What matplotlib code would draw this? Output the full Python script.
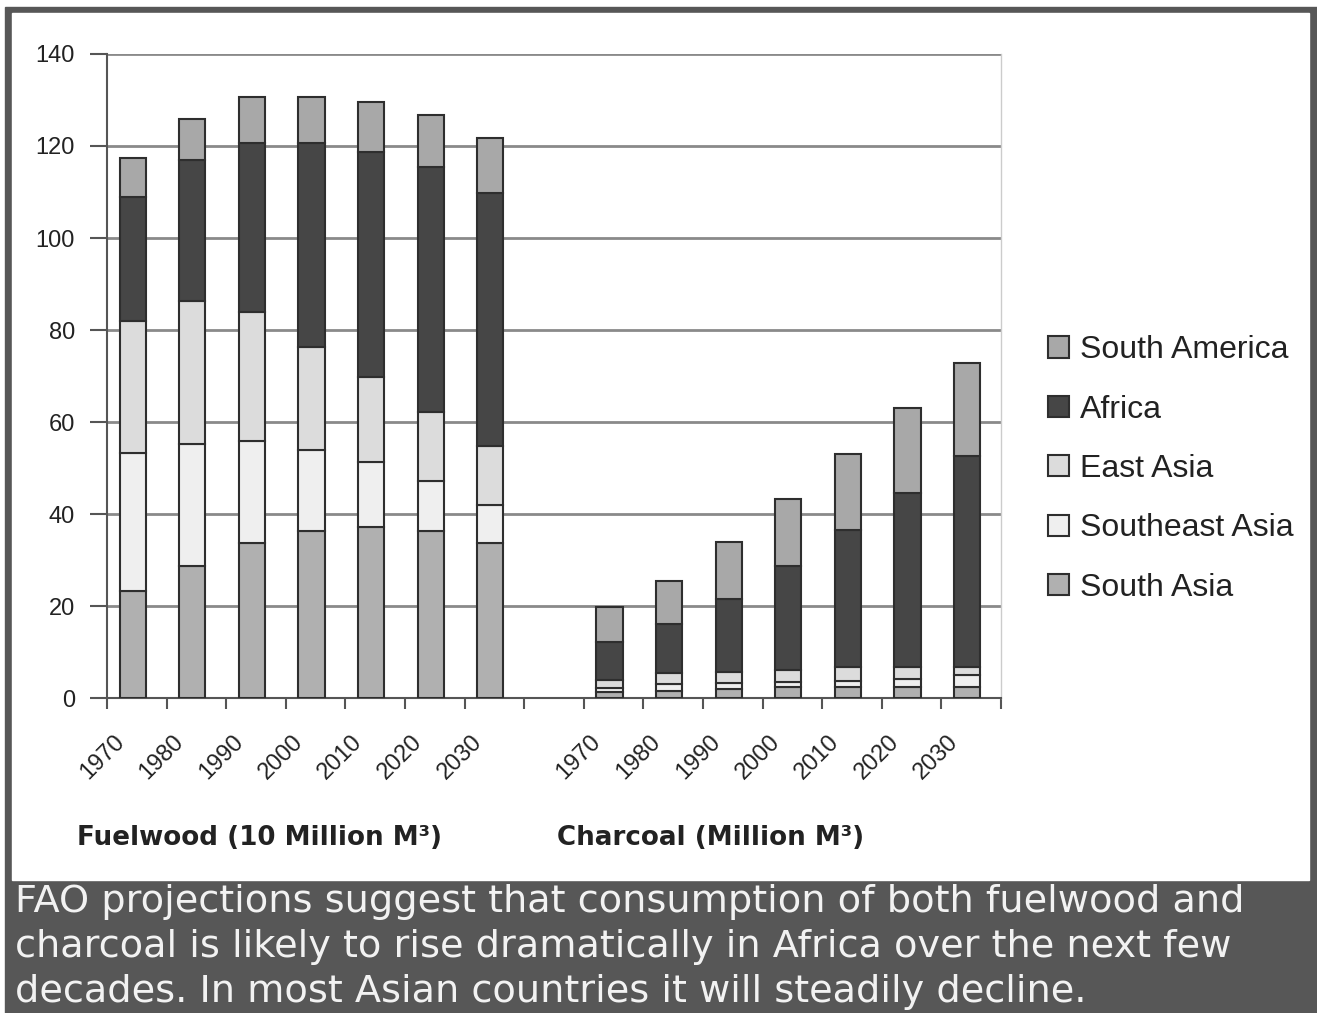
import numpy as np
import matplotlib.pyplot as plt
from matplotlib.patches import Rectangle, Patch

years = ['1970', '1980', '1990', '2000', '2010', '2020', '2030']
regions = ['South Asia', 'Southeast Asia', 'East Asia', 'Africa', 'South America']

# fuelwood, 10 million m3 (bottom to top of the stack)
fuel_south_asia = [23.3, 28.7, 33.8, 36.2, 37.2, 36.2, 33.8]
fuel_se_asia = [29.9, 26.5, 22.1, 17.7, 14.0, 11.0, 8.2]
fuel_east_asia = [28.8, 31.1, 28.0, 22.4, 18.6, 15.0, 12.8]
fuel_africa = [27.0, 30.7, 36.8, 44.4, 48.9, 53.2, 55.0]
fuel_s_america = [8.4, 8.9, 10.0, 10.0, 10.9, 11.3, 11.9]

# charcoal, million m3
char_south_asia = [1.2, 1.6, 2.0, 2.3, 2.5, 2.3, 2.3]
char_se_asia = [1.0, 1.4, 1.2, 1.1, 1.3, 1.8, 2.7]
char_east_asia = [1.7, 2.4, 2.5, 2.7, 2.9, 2.7, 1.8]
char_africa = [8.3, 10.7, 15.8, 22.7, 29.8, 37.8, 45.9]
char_s_america = [7.6, 9.4, 12.5, 14.4, 16.5, 18.5, 20.2]

colors = ['#b0b0b0', '#efefef', '#dcdcdc', '#464646', '#a8a8a8']
edge = '#2e2e2e'

plt.rcParams['font.family'] = ['Liberation Sans', 'DejaVu Sans']

fig = plt.figure(figsize=(13.17, 10.13), dpi=100)

# frame and caption background
fig.patches.append(Rectangle((5 / 1317, 0), 1 - 5 / 1317, 1 - 7 / 1013,
                             transform=fig.transFigure, color='#575757', zorder=-2))
fig.patches.append(Rectangle((12 / 1317, 1 - 880 / 1013), (1309 - 12) / 1317, (880 - 13) / 1013,
                             transform=fig.transFigure, color='white', zorder=-1))

ax = fig.add_axes([107 / 1317, 1 - 698 / 1013, (1001 - 107) / 1317, (698 - 54) / 1013])
ax.set_zorder(2)

fuel = [fuel_south_asia, fuel_se_asia, fuel_east_asia, fuel_africa, fuel_s_america]
char = [char_south_asia, char_se_asia, char_east_asia, char_africa, char_s_america]

x_fuel = np.arange(len(years))
x_char = np.arange(len(years)) + len(years) + 1
w = 0.44

for x, group in [(x_fuel, fuel), (x_char, char)]:
    bottom = np.zeros(len(years))
    for vals, c in zip(group, colors):
        ax.bar(x - 0.07, vals, w, bottom=bottom, color=c, edgecolor=edge, linewidth=1.5, zorder=3)
        bottom += np.array(vals)

ax.set_xlim(-0.5, 14.5)
ax.set_ylim(0, 140)
ax.set_yticks(range(0, 141, 20))
ax.yaxis.grid(True, color='#8a8a8a', linewidth=2, zorder=0)
ax.set_axisbelow(True)
ax.tick_params(axis='y', length=12, width=1.5, color='#555555', pad=11, labelsize=17, labelcolor='#222222')

ax.set_xticks(np.arange(-0.5, 15, 1))
ax.set_xticklabels([])
ax.tick_params(axis='x', length=8, width=1.5, color='#555555')
lab_x = list(x_fuel) + list(x_char)
for xi, lab in zip(lab_x, years + years):
    ax.text(xi - 0.40, -7.2, lab, rotation=45, ha='right', va='top', rotation_mode='anchor',
            fontsize=17, color='#222222', clip_on=False)

ax.spines['top'].set_visible(False)
ax.spines['right'].set_color('#cccccc')
ax.spines['right'].set_linewidth(1)
ax.spines['left'].set_color('#555555')
ax.spines['left'].set_linewidth(1.5)
ax.spines['bottom'].set_color('#555555')
ax.spines['bottom'].set_linewidth(1.5)

handles = [Patch(facecolor=c, edgecolor=edge, linewidth=1.5) for c in colors][::-1]
fig.legend(handles, regions[::-1], loc='center left', bbox_to_anchor=(1019 / 1317, 1 - 469 / 1013),
           frameon=False, fontsize=23, handlelength=0.65, handleheight=0.65, handletextpad=0.35,
           labelspacing=0.92, labelcolor='#222222')

fig.text(77 / 1317, 1 - 838 / 1013, 'Fuelwood (10 Million M³)', fontsize=18.8, fontweight='bold',
         color='#222222', va='center', family='DejaVu Sans')
fig.text(557 / 1317, 1 - 838 / 1013, 'Charcoal (Million M³)', fontsize=18.8, fontweight='bold',
         color='#222222', va='center', family='DejaVu Sans')

caption = ['FAO projections suggest that consumption of both fuelwood and',
           'charcoal is likely to rise dramatically in Africa over the next few',
           'decades. In most Asian countries it will steadily decline.']
for i, line in enumerate(caption):
    fig.text(15 / 1317, 1 - (902 + 45 * i) / 1013, line, fontsize=27.5, color='#f2f2f2',
             va='center', family='DejaVu Sans')

fig.savefig('out.png', dpi=100)
